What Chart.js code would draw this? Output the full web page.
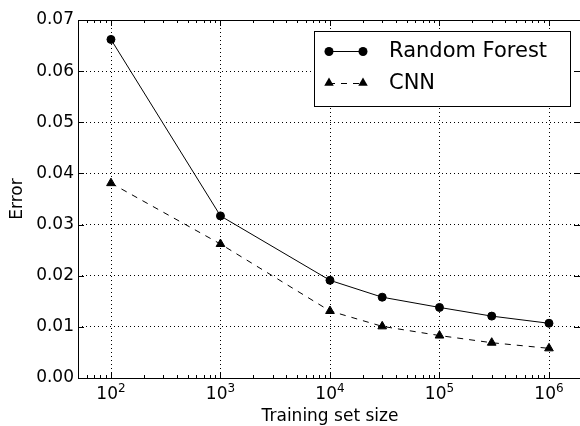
<!DOCTYPE html>
<html>
<head>
<meta charset="utf-8">
<script src="https://cdn.jsdelivr.net/npm/chart.js@4/dist/chart.umd.min.js"></script>
<style>
    html, body { margin: 0; padding: 0; background: #fff; overflow: hidden; }
    #errorChart { display: block; }
</style>
</head>
<body>
<canvas id="errorChart" width="580" height="426"></canvas>
<script>
const trainingSizes = [1e2, 1e3, 1e4, 3e4, 1e5, 3e5, 1e6];
const randomForestError = [0.0662, 0.0317, 0.0191, 0.0158, 0.0138, 0.0121, 0.0107];
const cnnError = [0.0381, 0.0262, 0.0131, 0.0101, 0.0083, 0.0069, 0.0058];
const xExponents = [2, 3, 4, 5, 6];
const yTicks = [0, 0.01, 0.02, 0.03, 0.04, 0.05, 0.06, 0.07];

const FONT = '"DejaVu Sans", sans-serif';

function toPoints(values) {
    return trainingSizes.map((x, i) => ({ x: x, y: values[i] }));
}

// frame, inside ticks, x labels, x grid and legend in matplotlib style
const mplPlugin = {
    id: 'mplPlugin',
    beforeDatasetsDraw(chart) {
        const ctx = chart.ctx;
        const area = chart.chartArea;
        const xs = chart.scales.x;
        ctx.save();
        ctx.strokeStyle = '#000';
        ctx.lineWidth = 1;
        ctx.setLineDash([1, 3]);
        xExponents.forEach(e => {
            const px = Math.round(xs.getPixelForValue(Math.pow(10, e))) + 0.5;
            ctx.beginPath();
            ctx.moveTo(px, area.top);
            ctx.lineTo(px, area.bottom);
            ctx.stroke();
        });
        ctx.restore();
    },
    afterDraw(chart) {
        const ctx = chart.ctx;
        const area = chart.chartArea;
        const xs = chart.scales.x;
        const ys = chart.scales.y;
        ctx.save();
        ctx.strokeStyle = '#000';
        ctx.lineWidth = 1;
        ctx.setLineDash([]);

        // ticks on x (top and bottom, pointing in)
        for (let e = 1; e <= 6; e++) {
            for (let m = 1; m <= 9; m++) {
                const v = m * Math.pow(10, e);
                if (v < xs.min || v > xs.max) continue;
                const px = Math.round(xs.getPixelForValue(v)) + 0.5;
                const len = m === 1 ? 6 : 3;
                ctx.beginPath();
                ctx.moveTo(px, area.bottom);
                ctx.lineTo(px, area.bottom - len);
                ctx.moveTo(px, area.top);
                ctx.lineTo(px, area.top + len);
                ctx.stroke();
            }
        }
        // ticks on y (left and right)
        yTicks.forEach(v => {
            const py = Math.round(ys.getPixelForValue(v)) + 0.5;
            ctx.beginPath();
            ctx.moveTo(area.left, py);
            ctx.lineTo(area.left + 6, py);
            ctx.moveTo(area.right, py);
            ctx.lineTo(area.right - 6, py);
            ctx.stroke();
        });

        // frame: the right edge is cut off by the canvas in the reference
        const l = Math.round(area.left) + 0.5;
        const t = Math.round(area.top) + 0.5;
        const b = Math.round(area.bottom) + 0.5;
        ctx.beginPath();
        ctx.moveTo(area.right, t);
        ctx.lineTo(l, t);
        ctx.lineTo(l, b);
        ctx.lineTo(area.right, b);
        ctx.stroke();

        // x tick labels 10^n
        ctx.fillStyle = '#000';
        ctx.textBaseline = 'alphabetic';
        xExponents.forEach(e => {
            const px = xs.getPixelForValue(Math.pow(10, e));
            ctx.font = '17px ' + FONT;
            const w1 = ctx.measureText('10').width;
            ctx.font = '12px ' + FONT;
            const w2 = ctx.measureText(String(e)).width;
            const x0 = px - (w1 + w2) / 2;
            ctx.font = '17px ' + FONT;
            ctx.textAlign = 'left';
            ctx.fillText('10', x0, 399);
            ctx.font = '12px ' + FONT;
            ctx.fillText(String(e), x0 + w1, 392);
        });

        // x title
        ctx.font = '17px ' + FONT;
        ctx.textAlign = 'center';
        ctx.fillText('Training set size', 330, 421);

        // legend
        const lx = 314, ly = 31, lw = 256, lh = 75;
        ctx.fillStyle = '#fff';
        ctx.fillRect(lx, ly, lw, lh);
        ctx.strokeRect(lx + 0.5, ly + 0.5, lw, lh);
        chart.data.datasets.forEach((ds, i) => {
            const cy = 51 + i * 32;
            const x1 = 329, x2 = 363;
            ctx.strokeStyle = '#000';
            ctx.setLineDash(ds.borderDash || []);
            ctx.beginPath();
            ctx.moveTo(x1, cy + 0.5);
            ctx.lineTo(x2, cy + 0.5);
            ctx.stroke();
            ctx.setLineDash([]);
            ctx.fillStyle = '#000';
            [x1, x2].forEach(mx => {
                ctx.beginPath();
                if (ds.pointStyle === 'triangle') {
                    const r = 5.5;
                    ctx.moveTo(mx, cy - r);
                    ctx.lineTo(mx + r * 0.866, cy + r / 2);
                    ctx.lineTo(mx - r * 0.866, cy + r / 2);
                    ctx.closePath();
                } else {
                    ctx.arc(mx, cy + 0.5, 4.5, 0, Math.PI * 2);
                }
                ctx.fill();
            });
            ctx.font = '21px ' + FONT;
            ctx.textAlign = 'left';
            ctx.textBaseline = 'middle';
            ctx.fillText(ds.label, 389, cy + 1);
        });
        ctx.restore();
    }
};

const chart = new Chart(document.getElementById('errorChart').getContext('2d'), {
    type: 'line',
    data: {
        datasets: [{
            label: 'Random Forest',
            data: toPoints(randomForestError),
            borderColor: '#000',
            borderWidth: 1,
            pointStyle: 'circle',
            pointRadius: 4,
            pointBorderWidth: 1,
            pointBackgroundColor: '#000',
            pointBorderColor: '#000',
            fill: false,
            tension: 0,
            clip: false
        }, {
            label: 'CNN',
            data: toPoints(cnnError),
            borderColor: '#000',
            borderWidth: 1,
            borderDash: [6, 6],
            pointStyle: 'triangle',
            pointRadius: 5,
            pointBorderWidth: 1,
            pointBackgroundColor: '#000',
            pointBorderColor: '#000',
            fill: false,
            tension: 0,
            clip: false
        }]
    },
    options: {
        responsive: false,
        animation: false,
        layout: {
            autoPadding: false,
            padding: { top: 20, right: 0, left: 0, bottom: 0 }
        },
        plugins: {
            legend: { display: false },
            tooltip: { enabled: false }
        },
        scales: {
            x: {
                type: 'logarithmic',
                min: 50,
                max: 1.92e6,
                grid: { display: false },
                border: { display: false },
                ticks: { display: false, autoSkip: false },
                afterFit: scale => { scale.height = 48; }
            },
            y: {
                type: 'linear',
                min: 0,
                max: 0.07,
                grid: {
                    color: '#000',
                    lineWidth: 1,
                    drawTicks: false
                },
                border: { display: false, dash: [1, 3] },
                ticks: {
                    stepSize: 0.01,
                    padding: 4,
                    color: '#000',
                    font: { family: FONT, size: 17 },
                    callback: v => v.toFixed(2)
                },
                title: {
                    display: true,
                    text: 'Error',
                    color: '#000',
                    font: { family: FONT, size: 17 },
                    padding: { top: 7, bottom: 0 }
                },
                afterFit: scale => { scale.width = 78; }
            }
        }
    },
    plugins: [mplPlugin]
});
</script>
</body>
</html>
